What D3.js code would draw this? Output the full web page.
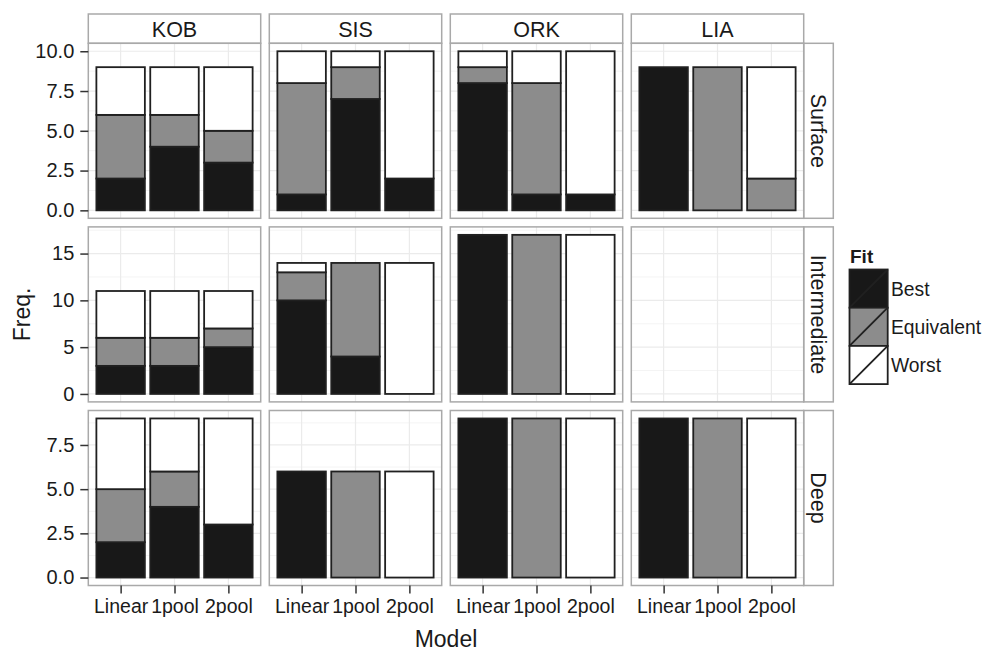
<!DOCTYPE html>
<html>
<head>
<meta charset="utf-8">
<script src="https://cdn.jsdelivr.net/npm/d3@7"></script>
<style>
  html, body { margin: 0; padding: 0; background: #fff; }
  svg { display: block; font-family: "Liberation Sans", Arial, Helvetica, sans-serif; }
</style>
</head>
<body>
<svg id="chart" width="985" height="651"></svg>
<script>
// ---------- DATA ----------
const sites = ["KOB", "SIS", "ORK", "LIA"];
const depths = ["Surface", "Intermediate", "Deep"];
const models = ["Linear", "1pool", "2pool"];
const fits = ["Best", "Equivalent", "Worst"];
const fitColors = ["#181818", "#8c8c8c", "#ffffff"];

// values ordered site by site (KOB, SIS, ORK, LIA), each with Linear, 1pool, 2pool
const surfaceBest  = [2, 4, 3,  1, 7, 2,  8, 1, 1,  9, 0, 0];
const surfaceEquiv = [4, 2, 2,  7, 2, 0,  1, 7, 0,  0, 9, 2];
const surfaceWorst = [3, 3, 4,  2, 1, 8,  1, 2, 9,  0, 0, 7];

const intermBest   = [3, 3, 5,  10, 4, 0,  17, 0, 0,  null, null, null];
const intermEquiv  = [3, 3, 2,  3, 10, 0,  0, 17, 0,  null, null, null];
const intermWorst  = [5, 5, 4,  1, 0, 14,  0, 0, 17,  null, null, null];

const deepBest     = [2, 4, 3,  6, 0, 0,  9, 0, 0,  9, 0, 0];
const deepEquiv    = [3, 2, 0,  0, 6, 0,  0, 9, 0,  0, 9, 0];
const deepWorst    = [4, 3, 6,  0, 0, 6,  0, 0, 9,  0, 0, 9];

const surfaceTicks = [0, 2.5, 5, 7.5, 10];
const intermTicks  = [0, 5, 10, 15];
const deepTicks    = [0, 2.5, 5, 7.5];

const surfaceMinor = [1.25, 3.75, 6.25, 8.75];
const intermMinor  = [2.5, 7.5, 12.5, 17.5];
const deepMinor    = [1.25, 3.75, 6.25, 8.75];

const rowSeries = [
  [surfaceBest, surfaceEquiv, surfaceWorst],
  [intermBest, intermEquiv, intermWorst],
  [deepBest, deepEquiv, deepWorst]
];
const rowTicks = [surfaceTicks, intermTicks, deepTicks];
const rowMinor = [surfaceMinor, intermMinor, deepMinor];
const rowTickFormat = [d3.format(".1f"), d3.format("d"), d3.format(".1f")];

// ---------- LAYOUT ----------
const svg = d3.select("#chart");
const FONT = "'Liberation Sans', Arial, Helvetica, sans-serif";
const panelLeft = 88.3, panelW = 172.4, gapX = 8.6;
const stripTop = 14, stripH = 29.3;
const panelTop0 = stripTop + stripH, panelH = 175, gapY = 8.6;
const rStripW = 29.6;
const borderCol = "#a9a9a9";
const textCol = "#1a1a1a";
const outlineCol = "#202020";

const colX = i => panelLeft + i * (panelW + gapX);
const rowY = j => panelTop0 + j * (panelH + gapY);
const rightEdge = colX(sites.length - 1) + panelW;

// column strips
sites.forEach((s, i) => {
  svg.append("rect").attr("x", colX(i)).attr("y", stripTop)
    .attr("width", panelW).attr("height", stripH)
    .attr("fill", "#fff").attr("stroke", borderCol).attr("stroke-width", 1.5);
  svg.append("text").attr("x", colX(i) + panelW / 2).attr("y", stripTop + stripH / 2)
    .attr("dy", "0.38em").attr("text-anchor", "middle")
    .attr("font-size", 21.5).attr("fill", textCol).text(s);
});

depths.forEach((dname, j) => {
  const top = rowY(j), bottom = top + panelH;
  const series = rowSeries[j];
  let maxTotal = 0;
  for (let k = 0; k < 12; k++) {
    const t = (series[0][k] || 0) + (series[1][k] || 0) + (series[2][k] || 0);
    if (t > maxTotal) maxTotal = t;
  }
  const y = d3.scaleLinear()
    .domain([-0.05 * maxTotal, 1.05 * maxTotal])
    .range([bottom, top]);

  // row strip
  svg.append("rect").attr("x", rightEdge).attr("y", top)
    .attr("width", rStripW).attr("height", panelH)
    .attr("fill", "#fff").attr("stroke", borderCol).attr("stroke-width", 1.5);
  svg.append("text")
    .attr("transform", `translate(${rightEdge + rStripW / 2},${top + panelH / 2}) rotate(90)`)
    .attr("dy", "0.36em").attr("text-anchor", "middle")
    .attr("font-size", 21.5).attr("fill", textCol).text(dname);

  sites.forEach((s, i) => {
    const left = colX(i);
    const x = d3.scaleBand().domain(models)
      .range([left, left + panelW]).paddingInner(0.1).paddingOuter(0.15);
    const g = svg.append("g");
    g.append("rect").attr("x", left).attr("y", top).attr("width", panelW).attr("height", panelH)
      .attr("fill", "#fff");
    // minor grid
    rowMinor[j].forEach(v => {
      g.append("line").attr("x1", left).attr("x2", left + panelW)
        .attr("y1", y(v)).attr("y2", y(v)).attr("stroke", "#f4f4f4").attr("stroke-width", 1);
    });
    // major grid
    rowTicks[j].forEach(v => {
      g.append("line").attr("x1", left).attr("x2", left + panelW)
        .attr("y1", y(v)).attr("y2", y(v)).attr("stroke", "#ebebeb").attr("stroke-width", 1.2);
    });
    models.forEach(m => {
      const cx = x(m) + x.bandwidth() / 2;
      g.append("line").attr("x1", cx).attr("x2", cx).attr("y1", top).attr("y2", bottom)
        .attr("stroke", "#ebebeb").attr("stroke-width", 1.2);
    });
    // stacked bars
    models.forEach((m, mi) => {
      const k = i * 3 + mi;
      let base = 0;
      fits.forEach((f, fi) => {
        const v = series[fi][k];
        if (v == null || v === 0) return;
        g.append("rect")
          .attr("x", x(m)).attr("width", x.bandwidth())
          .attr("y", y(base + v)).attr("height", y(base) - y(base + v))
          .attr("fill", fitColors[fi]).attr("stroke", outlineCol).attr("stroke-width", 1.8);
        base += v;
      });
    });
    // panel border
    g.append("rect").attr("x", left).attr("y", top).attr("width", panelW).attr("height", panelH)
      .attr("fill", "none").attr("stroke", borderCol).attr("stroke-width", 1.5);

    // y axis on left column
    if (i === 0) {
      const ax = svg.append("g").attr("transform", `translate(${left},0)`)
        .call(d3.axisLeft(y).tickValues(rowTicks[j]).tickFormat(rowTickFormat[j])
          .tickSize(8).tickPadding(6));
      ax.attr("font-family", FONT);
      ax.select(".domain").remove();
      ax.selectAll(".tick line").attr("stroke", "#333").attr("stroke-width", 1.5);
      ax.selectAll(".tick text").attr("font-size", 20).attr("fill", textCol);
    }
    // x axis on bottom row
    if (j === depths.length - 1) {
      const pos = d3.scalePoint().domain(models)
        .range([x(models[0]) + x.bandwidth() / 2, x(models[2]) + x.bandwidth() / 2]);
      const ax = svg.append("g").attr("transform", `translate(0,${bottom})`)
        .call(d3.axisBottom(pos).tickSize(8).tickPadding(6));
      ax.attr("font-family", FONT);
      ax.select(".domain").remove();
      ax.selectAll(".tick line").attr("stroke", "#333").attr("stroke-width", 1.5);
      ax.selectAll(".tick text").attr("font-size", 19.5).attr("fill", textCol);
    }
  });
});

// axis titles
svg.append("text")
  .attr("transform", `translate(30,${(rowY(0) + rowY(2) + panelH) / 2}) rotate(-90)`)
  .attr("text-anchor", "middle").attr("font-size", 23).attr("fill", textCol).text("Freq.");
svg.append("text")
  .attr("x", (panelLeft + rightEdge) / 2).attr("y", 647)
  .attr("text-anchor", "middle").attr("font-size", 23).attr("fill", textCol).text("Model");

// legend
const lg = svg.append("g");
const keyX = 849.5, keyY = 269.5, keyS = 38.2;
lg.append("text").attr("x", 850).attr("y", 263).attr("font-size", 19)
  .attr("font-weight", "bold").attr("fill", textCol).text("Fit");
fits.forEach((f, fi) => {
  const ky = keyY + fi * keyS;
  lg.append("rect").attr("x", keyX).attr("y", ky).attr("width", keyS).attr("height", keyS)
    .attr("fill", fitColors[fi]).attr("stroke", outlineCol).attr("stroke-width", 1.8);
  lg.append("line").attr("x1", keyX).attr("y1", ky + keyS).attr("x2", keyX + keyS).attr("y2", ky)
    .attr("stroke", outlineCol).attr("stroke-width", 1.8);
  lg.append("text").attr("x", 891).attr("y", ky + keyS / 2).attr("dy", "0.36em")
    .attr("font-size", 19.3).attr("fill", textCol).text(f);
});
</script>
</body>
</html>
